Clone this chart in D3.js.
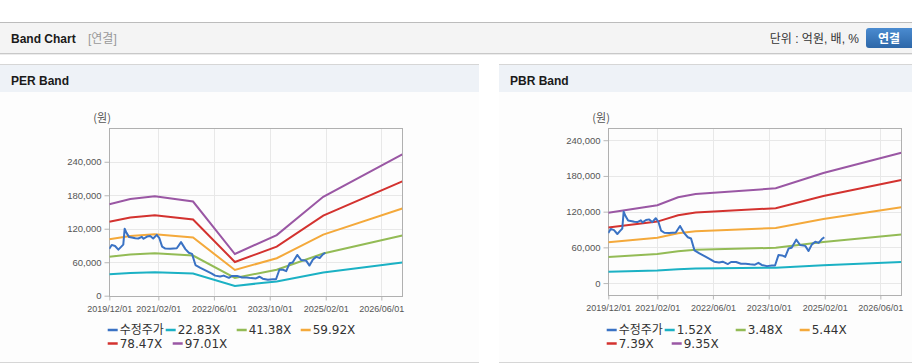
<!DOCTYPE html>
<html>
<head>
<meta charset="utf-8">
<script src="https://cdn.jsdelivr.net/npm/d3@7"></script>
<style>
  html, body { margin: 0; padding: 0; background: #fff; }
  svg { display: block; }
</style>
</head>
<body>
<div id="chart"></div>
<script>
    // ---- data ----
    var xTicks = ["2019-12-01", "2021-02-01", "2022-06-01", "2023-10-01", "2025-02-01", "2026-06-01"];
    var yTicks = [0, 60000, 120000, 180000, 240000];

    // PER band (원)
    var perDates = ["2019-12-01", "2020-06-01", "2021-01-01", "2021-12-01", "2022-12-01", "2023-12-01", "2025-01-10", "2026-12-01"];
    var per2283 = [38600, 40800, 42000, 39800, 17600, 25600, 41700, 59600];
    var per4138 = [70000, 74000, 76000, 72000, 31900, 46400, 75600, 108000];
    var per5992 = [101300, 107000, 110000, 104300, 46100, 67100, 109500, 156400];
    var per7847 = [132700, 140200, 144000, 136600, 60400, 87900, 143400, 204800];
    var per9701 = [164000, 173200, 178000, 168800, 74700, 108700, 177300, 253200];
    var perNames = ["22.83X", "41.38X", "59.92X", "78.47X", "97.01X"];

    // PBR band (원)
    var pbrDates = ["2019-12-01", "2021-02-01", "2021-08-01", "2022-01-01", "2023-12-01", "2025-01-20", "2026-12-01"];
    var pbr152 = [19200, 21300, 23400, 24400, 25900, 30100, 35600];
    var pbr348 = [44000, 48700, 53600, 55800, 59300, 68900, 81500];
    var pbr544 = [68800, 76000, 83800, 87200, 92600, 107600, 127400];
    var pbr739 = [93400, 103300, 113900, 118400, 125800, 146200, 173100];
    var pbr935 = [118200, 130700, 144100, 149800, 159200, 185000, 219000];
    var pbrNames = ["1.52X", "3.48X", "5.44X", "7.39X", "9.35X"];

    // 수정주가
    var priceDates = ["2019-12-01", "2019-12-22", "2020-01-20", "2020-02-18", "2020-03-15", "2020-04-01",
      "2020-04-13", "2020-04-28", "2020-05-22", "2020-06-25", "2020-07-15", "2020-08-10", "2020-09-10",
      "2020-09-25", "2020-10-25", "2020-11-22", "2020-12-18", "2021-01-18", "2021-02-10", "2021-03-06",
      "2021-04-03", "2021-05-15", "2021-07-12", "2021-08-18", "2021-09-25", "2021-10-25", "2021-11-22",
      "2021-12-22", "2022-02-03", "2022-04-01", "2022-05-10", "2022-06-12", "2022-07-25", "2022-08-25",
      "2022-10-10", "2022-11-06", "2022-12-20", "2023-02-01", "2023-03-13", "2023-04-22", "2023-06-03",
      "2023-07-03", "2023-08-01", "2023-09-15", "2023-10-28", "2023-11-25", "2023-12-25", "2024-01-25",
      "2024-02-22", "2024-03-22", "2024-04-18", "2024-05-28", "2024-07-01", "2024-08-15", "2024-09-12",
      "2024-10-12", "2024-11-10", "2024-12-10", "2025-01-07", "2025-01-28"];
    var priceValues = [84000, 91000, 89000, 82500, 88000, 91500,
      120000, 113000, 105000, 104000, 103000, 102500, 105500,
      102000, 106000, 107000, 102500, 109000, 103000, 88000,
      84500, 84000, 85000, 96000, 83500, 77000, 75000,
      55000, 50000, 44000, 40000, 36000, 34500, 36000,
      32000, 35500, 35500, 32500, 32500, 31500, 31000,
      34000, 30500, 28500, 29500, 29500, 47000, 46500,
      44000, 58000, 59500, 73000, 64000, 62500, 54000,
      65000, 69500, 67500, 74000, 77000];
    var priceName = "수정주가";

    var colors = ["#3a72c4", "#1bb1c4", "#93bb55", "#f4a93b", "#d3322f", "#9a57a4"];

    // ---- page ----
    var W = 912, H = 364;
    var parse = d3.timeParse("%Y-%m-%d");
    var fmt = d3.timeFormat("%Y/%m/%d");
    var svg = d3.select("#chart").append("svg").attr("width", W).attr("height", H);

    // top bar
    svg.append("rect").attr("x", 0).attr("y", 22).attr("width", W).attr("height", 31)
        .attr("fill", "#f4f4f4");
    svg.append("line").attr("x1", 0).attr("x2", W).attr("y1", 22.5).attr("y2", 22.5).attr("stroke", "#bcbcbc");
    svg.append("line").attr("x1", 0).attr("x2", W).attr("y1", 53.5).attr("y2", 53.5).attr("stroke", "#c8c8c8");
    svg.append("line").attr("x1", 0).attr("x2", W).attr("y1", 54.5).attr("y2", 54.5).attr("stroke", "#ececec");
    svg.append("text").attr("x", 11).attr("y", 43)
        .style("font", "bold 12px 'Liberation Sans', 'Noto Sans CJK KR'").attr("fill", "#1a1a1a")
        .text("Band Chart");
    svg.append("text").attr("x", 88).attr("y", 43)
        .style("font", "12px 'Liberation Sans', 'Noto Sans CJK KR'").attr("fill", "#999")
        .text("[연결]");
    svg.append("text").attr("x", 859).attr("y", 43).attr("text-anchor", "end")
        .style("font", "12px 'Liberation Sans', 'Noto Sans CJK KR'").attr("fill", "#333")
        .text("단위 : 억원, 배, %");
    var grad = svg.append("defs").append("linearGradient").attr("id", "btn")
        .attr("x1", 0).attr("x2", 0).attr("y1", 0).attr("y2", 1);
    grad.append("stop").attr("offset", "0%").attr("stop-color", "#4a8bd0");
    grad.append("stop").attr("offset", "100%").attr("stop-color", "#2d67a8");
    svg.append("rect").attr("x", 866).attr("y", 28).attr("width", 50).attr("height", 20)
        .attr("rx", 3).attr("fill", "url(#btn)");
    svg.append("text").attr("x", 889).attr("y", 42.5).attr("text-anchor", "middle")
        .style("font", "bold 12px 'Noto Sans CJK KR'").attr("fill", "#fff")
        .text("연결");

    function drawPanel(p) {
      var g = svg.append("g");
      // panel box
      g.append("rect").attr("x", p.left).attr("y", 64).attr("width", p.width).attr("height", 298)
          .attr("fill", "#fdfdfd");
      g.append("rect").attr("x", p.left).attr("y", 64).attr("width", p.width).attr("height", 28)
          .attr("fill", "#eef2f7");
      g.append("line").attr("x1", p.left).attr("x2", p.left + p.width).attr("y1", 64.5).attr("y2", 64.5)
          .attr("stroke", "#d6d6d6");
      g.append("line").attr("x1", p.left).attr("x2", p.left + p.width).attr("y1", 362.5).attr("y2", 362.5)
          .attr("stroke", "#d6d6d6");
      g.append("text").attr("x", p.left + 11).attr("y", 84.5)
          .style("font", "bold 12px 'Liberation Sans'").attr("fill", "#1a1a1a")
          .text(p.title);

      var x = d3.scaleTime()
          .domain([parse("2019-12-01"), parse("2026-12-01")])
          .range([p.plotLeft, p.plotLeft + 293]);
      var y = d3.scaleLinear().domain(p.yDomain).range([p.plotBottom, 128.3]);

      // unit label
      g.append("text").attr("x", p.plotLeft - 16).attr("y", 122)
          .style("font", "11px 'Noto Sans CJK KR'").attr("fill", "#555")
          .text("(원)");

      // grid
      var grid = g.append("g");
      grid.selectAll(".hg").data(yTicks).enter().append("line")
          .attr("x1", x.range()[0]).attr("x2", x.range()[1])
          .attr("y1", function(d) { return Math.round(y(d)) + 0.5; })
          .attr("y2", function(d) { return Math.round(y(d)) + 0.5; })
          .attr("stroke", "#e8e8e8");
      grid.selectAll(".vg").data(xTicks).enter().append("line")
          .attr("x1", function(d) { return Math.round(x(parse(d))) + 0.5; })
          .attr("x2", function(d) { return Math.round(x(parse(d))) + 0.5; })
          .attr("y1", y.range()[1]).attr("y2", y.range()[0])
          .attr("stroke", "#e8e8e8");

      // axes
      var yAxis = d3.axisLeft(y).tickValues(yTicks).tickSize(5).tickPadding(3)
          .tickFormat(d3.format(","));
      var xAxis = d3.axisBottom(x).tickValues(xTicks.map(parse)).tickSize(4).tickPadding(5)
          .tickFormat(fmt);
      var ya = g.append("g").attr("transform", "translate(" + (Math.round(p.plotLeft) + 0.5) + ",0)").call(yAxis);
      var xa = g.append("g").attr("transform", "translate(0," + (Math.round(p.plotBottom) + 0.5) + ")").call(xAxis);
      [ya, xa].forEach(function(a) {
        a.select(".domain").remove();
        a.selectAll("line").attr("stroke", "#b8b8b8");
        a.selectAll("text").attr("fill", "#555");
      });
      ya.selectAll("text").style("font", "9.5px 'Liberation Sans'");
      xa.selectAll("text").style("font", "9px 'Liberation Sans'");

      // frame
      g.append("rect")
          .attr("x", Math.round(p.plotLeft) + 0.5).attr("y", Math.round(y.range()[1]) + 0.5)
          .attr("width", 293).attr("height", Math.round(p.plotBottom) - Math.round(y.range()[1]))
          .attr("fill", "none").attr("stroke", "#b0b0b0");

      var clipId = "clip" + p.title.charAt(1);
      g.append("clipPath").attr("id", clipId).append("rect")
          .attr("x", x.range()[0]).attr("y", y.range()[1])
          .attr("width", 293).attr("height", p.plotBottom - y.range()[1]);

      var line = d3.line()
          .x(function(d) { return x(d[0]); })
          .y(function(d) { return y(d[1]); });
      var lines = g.append("g").attr("clip-path", "url(#" + clipId + ")");

      p.bands.forEach(function(vals, i) {
        var pts = p.dates.map(function(d, j) { return [parse(d), vals[j]]; });
        lines.append("path").attr("d", line(pts)).attr("fill", "none")
            .attr("stroke", colors[i + 1]).attr("stroke-width", 2);
      });
      var ppts = priceDates.map(function(d, j) { return [parse(d), priceValues[j]]; });
      lines.append("path").attr("d", line(ppts)).attr("fill", "none")
          .attr("stroke", colors[0]).attr("stroke-width", 2).attr("stroke-linejoin", "round");

      // legend
      var names = [priceName].concat(p.names);
      var cols = [[0, 58, 129, 193], [0, 65]];
      names.forEach(function(n, i) {
        var row = i < 4 ? 0 : 1;
        var col = row === 0 ? i : i - 4;
        var lx = p.plotLeft - 1.6 + cols[row][col];
        var ly = 330 + row * 13.5;
        g.append("line").attr("x1", lx).attr("x2", lx + 10).attr("y1", ly).attr("y2", ly)
            .attr("stroke", colors[i]).attr("stroke-width", 2.5);
        g.append("text").attr("x", lx + 12).attr("y", ly + 4.3)
            .style("font", "12px 'DejaVu Sans', 'Noto Sans CJK KR'").attr("fill", "#333")
            .text(n);
      });
    }

    drawPanel({
      title: "PER Band", left: 0, width: 479, plotLeft: 109.3, plotBottom: 295.7,
      yDomain: [0, 300000], dates: perDates,
      bands: [per2283, per4138, per5992, per7847, per9701], names: perNames
    });
    drawPanel({
      title: "PBR Band", left: 499, width: 413, plotLeft: 608.3, plotBottom: 295,
      yDomain: [-20000, 260000], dates: pbrDates,
      bands: [pbr152, pbr348, pbr544, pbr739, pbr935], names: pbrNames
    });
</script>
</body>
</html>
